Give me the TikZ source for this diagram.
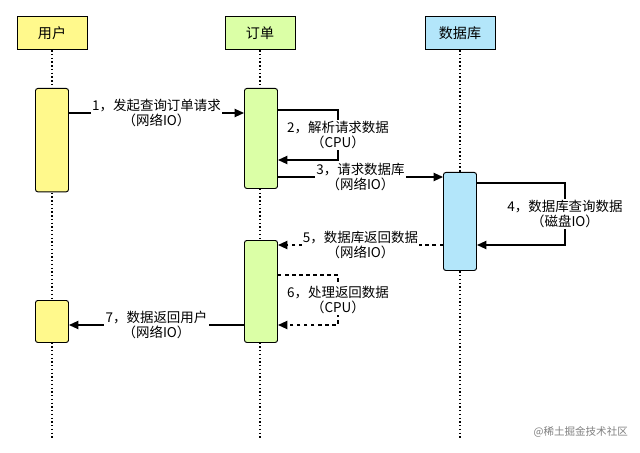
\documentclass[tikz,border=0pt]{standalone}
\usepackage{fontspec}
\setmainfont{Noto Sans CJK SC}
\usetikzlibrary{positioning, arrows.meta}

\begin{document}
\begin{tikzpicture}[x=0.03cm, y=-0.03cm]
        \tikzset{
            >={Triangle[length=8pt, width=7pt]}, % bold arrow heads
            head/.style={draw, thick, minimum width=2.1cm, minimum height=1cm, font=\fontsize{12}{14}\selectfont},
            act/.style={draw, thick, rounded corners=2pt, minimum width=0.99cm, anchor=north},
            life/.style={dotted, very thick},
            msg/.style={very thick, ->},
            lbl/.style={fill=white, align=center, inner sep=1pt, font=\fontsize{11.5}{13}\selectfont},
            }
        \useasboundingbox (0,0) rectangle (640,453);

        % heads
        \node[head, fill=yellow!45] (user) at (52,33) {用户};
        \node[head, fill=green!40!yellow!35] (order) at (260,33) {订单};
        \node[head, fill=cyan!30] (db) at (460,33) {数据库};

        % life lines
        \coordinate (user_end) at (52,440);
        \coordinate (order_end) at (260,440);
        \coordinate (db_end) at (460,440);
        \draw[life] (user) -- (user_end);
        \draw[life] (order) -- (order_end);
        \draw[life] (db) -- (db_end);

        % activations
        \node[act, fill=yellow!45, minimum height=3.1cm] (user_a) at (52,88) {};
        \node[act, fill=yellow!45, minimum height=1.26cm] (user_b) at (52,300) {};
        \node[act, fill=green!40!yellow!35, minimum height=3cm] (order_a) at (261,88) {};
        \node[act, fill=green!40!yellow!35, minimum height=3.06cm] (order_b) at (261,240) {};
        \node[act, fill=cyan!30, minimum height=2.94cm] (db_a) at (460,172) {};

        % messages
        \draw[msg] (user_a.east |- 0,113) -- node[lbl] {1，发起查询订单请求\\（网络IO）} (order_a.west |- 0,113);
        \draw[msg] (order_a.east |- 0,110) -- (338,110) -- node[lbl, pos=0.5] {2，解析请求数据\\（CPU）} (338,160) -- (order_a.east |- 0,160);
        \draw[msg] (order_a.east |- 0,177) -- node[lbl] {3，请求数据库\\（网络IO）} (db_a.west |- 0,177);
        \draw[msg] (db_a.east |- 0,183) -- (565,183) -- node[lbl] {4，数据库查询数据\\（磁盘IO）} (565,245) -- (db_a.east |- 0,245);
        \draw[msg, dashed] (db_a.west |- 0,245) -- node[lbl] {5，数据库返回数据\\（网络IO）} (order_b.east |- 0,245);
        \draw[msg, dashed] (order_b.east |- 0,275) -- (338,275) -- node[lbl] {6，处理返回数据\\（CPU）} (338,325) -- (order_b.east |- 0,325);
        \draw[msg] (order_b.west |- 0,325) -- node[lbl] {7，数据返回用户\\（网络IO）} (user_b.east |- 0,325);

        % watermark
        \node[text=gray, font=\fontsize{9}{11}\selectfont, anchor=east] (mark) at (632,432) {@稀土掘金技术社区};
\end{tikzpicture}
\end{document}
